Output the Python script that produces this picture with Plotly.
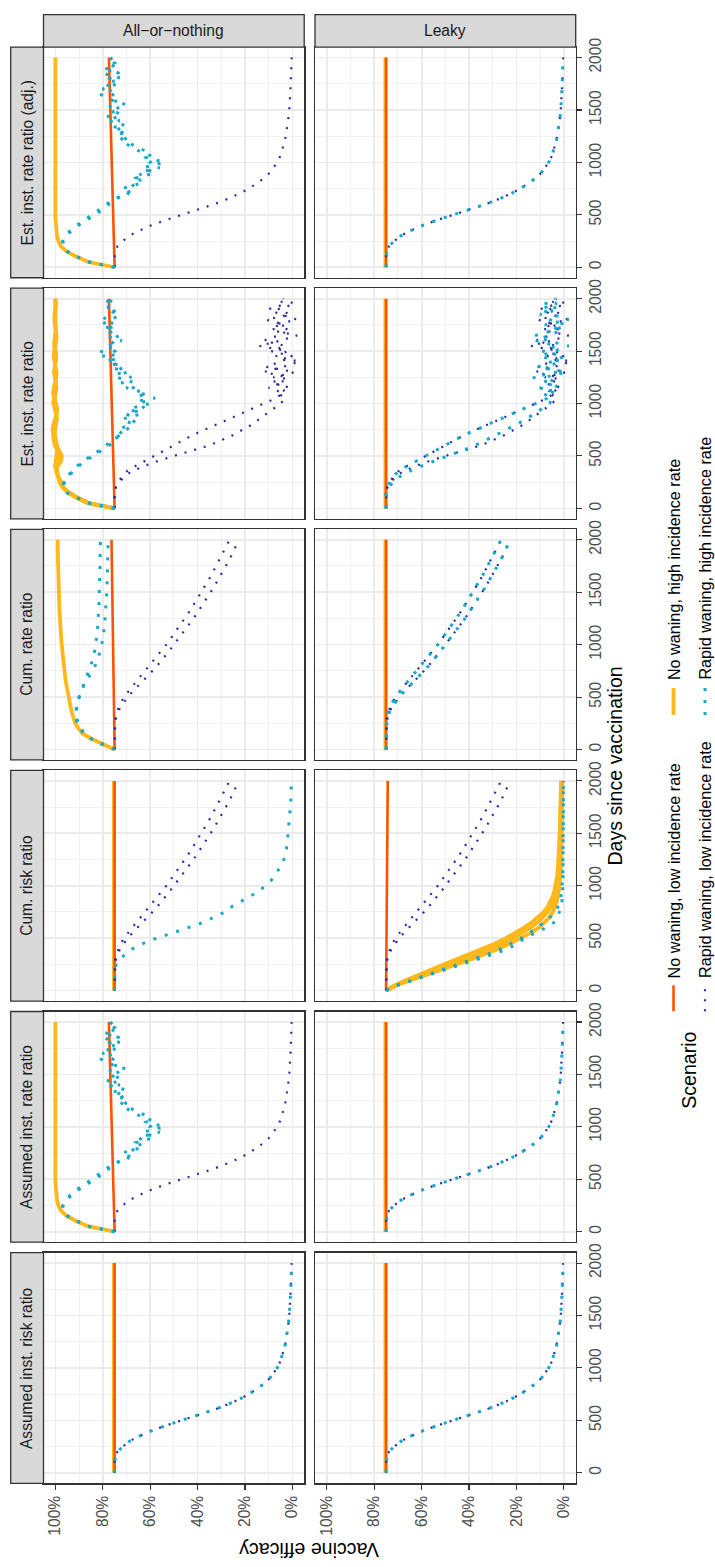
import plotly.graph_objects as go

# ---------------- data ----------------
DAYS = [0, 50, 100, 150, 200, 250, 300, 350, 400, 450, 500, 550, 600, 650, 700, 750, 800,
        850, 900, 950, 1000, 1050, 1100, 1150, 1200, 1250, 1300, 1350, 1400, 1450, 1500,
        1550, 1600, 1650, 1700, 1750, 1800, 1850, 1900, 1950, 2000]
D_ENDS = [0, 2000]

COL_LABELS = ["All\u2212or\u2212nothing", "Leaky"]
ROW_LABELS = ["Est. inst. rate ratio (adj.)", "Est. inst. rate ratio", "Cum. rate ratio",
              "Cum. risk ratio", "Assumed inst. rate ratio", "Assumed inst. risk ratio"]
VE_TICKS = [0, 20, 40, 60, 80, 100]
VE_TICK_LABELS = ["0%", "20%", "40%", "60%", "80%", "100%"]
VE_MINOR = [10, 30, 50, 70, 90]
DAY_TICKS = [0, 500, 1000, 1500, 2000]
DAY_TICK_LABELS = ["0", "500", "1000", "1500", "2000"]
DAY_MINOR = [250, 750, 1250, 1750]

SCENARIOS = ["No waning, low incidence rate", "No waning, high incidence rate",
             "Rapid waning, low incidence rate", "Rapid waning, high incidence rate"]

# no waning, flat / slightly tilted lines (values at day 0 and day 2000)
NWL_FLAT = [75.0, 75.0]
NWL_AON_RATE = [75.0, 77.4]
NWL_AON_CUMRATE = [75.0, 76.3]
NWL_LEAKY_CUMRISK = [75.0, 74.3]
NWH_FLAT = [75.3, 75.3]

# rapid waning, true instantaneous efficacy
RW_TRUE = [75, 75, 75, 74.6, 73.8, 71.6, 68.8, 64.6, 59.5, 53.5, 46.5, 39.6, 33.2, 27.5, 22.5,
           18.3, 14.8, 11.9, 9.6, 7.8, 6.4, 5.3, 4.5, 3.8, 3.2, 2.8, 2.4, 2.0, 1.8, 1.5, 1.3,
           1.1, 1.0, 0.9, 0.8, 0.7, 0.6, 0.5, 0.4, 0.35, 0.3]

# no waning, high incidence, all-or-nothing instantaneous rate ratio
NWH_AON_INST = [75, 86, 91, 95.3, 97.6, 98.7, 99.3, 99.6, 99.8, 99.9, 100, 100, 100, 100, 100,
                100, 100, 100, 100, 100, 100, 100, 100, 100, 100, 100, 100, 100, 100, 100, 100,
                100, 100, 100, 100, 100, 100, 100, 100, 100, 100]

RWH_AON_INST_A = [75, 86, 91, 95, 96.8, 96.8, 95.2, 93.2, 90.2, 86.8, 83.2, 80, 77.5,
                  74, 71, 66, 68, 62, 65, 56, 60, 58, 64, 68, 72, 69, 75, 70, 78, 72, 76,
                  70, 77, 81, 75, 79, 72, 80, 74, 78, 76]
RWH_AON_INST_B = [75, 85.5, 90.6, 94.7, 96.6, 96.9, 95.6, 93.8, 91, 87.8, 84.3, 81, 78.3,
                  76, 69, 72, 64, 66, 58, 63, 54, 62, 61, 66, 70, 74, 71, 76, 73, 79, 74,
                  78, 73, 76, 80, 74, 77, 73, 79, 75, 77]

# estimated instantaneous rate ratio (row 2)
NWH_AON_EST_1 = [75, 86.5, 91, 94.8, 97, 98.3, 98.8, 99.2, 100.2, 99.5, 98.2, 99, 100.3, 100.8,
                 101, 100.5, 99.8, 99.3, 99.6, 100.4, 100.9, 100.6, 100, 99.5, 99.8, 100.3,
                 100.6, 100.2, 99.7, 99.6, 100.1, 100.5, 100.4, 100, 99.7, 99.9, 100.3, 100.4,
                 100.1, 99.9, 100.1]
NWH_AON_EST_2 = [75, 85.5, 90.2, 94, 96.6, 97.8, 98.6, 99.6, 99.1, 97.6, 97.2, 98.4, 99.4, 99.8,
                 100.4, 101.2, 100.8, 100, 99.4, 99.2, 99.8, 100.5, 101, 100.7, 100.1, 99.6,
                 99.5, 99.9, 100.4, 100.7, 100.5, 100, 99.6, 99.5, 99.9, 100.3, 100.5, 100.2,
                 99.8, 99.7, 100]
NWH_AON_EST_3 = [75, 86, 90.8, 94.4, 96.8, 98, 98.9, 99.5, 99.8, 99.9, 99.6, 99.3, 99.5, 99.9,
                 100.2, 100.1, 99.8, 99.6, 99.8, 100.1, 100.3, 100.2, 99.9, 99.7, 99.8, 100,
                 100.2, 100.1, 99.9, 99.8, 99.9, 100.1, 100.2, 100.1, 99.9, 99.9, 100, 100.1,
                 100, 99.9, 100]
RWH_AON_EST_A = [75, 85.5, 90.5, 95, 96.6, 96.2, 94.5, 92.7, 90.3, 87.5, 84, 80.5, 77.3,
                 75, 73, 70, 67, 72, 64, 69, 60, 66, 62, 70, 67, 74, 70, 77, 73, 80, 75,
                 78, 72, 79, 75, 81, 76, 73, 79, 75, 78]
RWH_AON_EST_B = [75, 86, 91, 95.4, 97, 96.4, 95, 93.3, 91, 88.3, 85, 81.5, 78.4,
                 77, 71, 74, 68, 66, 70, 62, 65, 58, 64, 67, 72, 68, 75, 71, 78, 74, 81,
                 74, 77, 73, 79, 74, 80, 77, 74, 80, 76]
RW_EST_A = [75, 75, 75, 75, 74.5, 73, 71, 68, 63, 57, 50, 42, 35, 30, 25, 21, 17, 14, 11, 8, 5,
            3, 6, 1, 9, 2, 12, 4, -3, 7, 2, 14, 5, -2, 9, 3, 11, 1, 6, -1, 4]
RW_EST_B = [75, 75, 75, 75, 74.5, 73.5, 72, 70, 66.5, 62.5, 58.5, 54, 50, 46, 42, 37, 32, 27, 22,
            17, 12, 7, 4, 10, 3, 8, -1, 11, 5, 0, 9, 3, 12, 6, 1, 8, -2, 5, 10, 3, 7]
RW_EST_C = [75, 75, 75, 75, 74, 72, 69.5, 65.5, 60.5, 55, 49, 43, 37.5, 33, 28.5, 24, 20, 16,
            12.5, 9, 6, 5, 9, 2, 6, 13, 3, 8, 1, 10, 4, -2, 7, 12, 4, -1, 6, 10, 2, 8, 3]

# cumulative rate / risk ratios
NWH_AON_CUMRATE = [75, 80, 84.6, 88.4, 90.3, 91.6, 92.5, 93, 93.5, 94, 94.4, 94.9, 95.3, 95.6,
                   95.9, 96.2, 96.5, 96.7, 96.9, 97.1, 97.3, 97.5, 97.7, 97.8, 98, 98.1, 98.2,
                   98.3, 98.4, 98.5, 98.6, 98.6, 98.7, 98.7, 98.8, 98.8, 98.9, 98.9, 99, 99, 99]
RWH_AON_CUMRATE_A = [75, 80, 84.5, 87.5, 89.3, 90.4, 91, 91.2, 91.1, 90.7, 90, 89.2, 88.4, 87.5,
                     86.6, 85.7, 84.9, 84.3, 83.7, 83.3, 82.9, 82.6, 82.4, 82.2, 82, 81.9, 81.8,
                     81.7, 81.6, 81.5, 81.4, 81.4, 81.3, 81.3, 81.2, 81.2, 81.1, 81.1, 81.1, 81,
                     81]
RWH_AON_CUMRATE_B = [75, 80.5, 85, 88, 89.8, 90.8, 91.3, 91.4, 91.2, 90.7, 90, 89.1, 88.2, 87,
                     85.6, 84.3, 83.2, 82.3, 81.5, 80.9, 80.4, 80, 79.7, 79.4, 79.2, 79, 78.8,
                     78.6, 78.5, 78.4, 78.3, 78.2, 78.1, 78, 78, 77.9, 77.9, 77.8, 77.8, 77.8,
                     77.8]
RW_CUM_A = [75, 75, 75, 75, 75, 74.8, 74.4, 73.7, 72.6, 71.2, 69.5, 67.5, 65.3, 63.2, 61, 59, 57,
            55.1, 53.3, 51.6, 50, 48.3, 46.6, 44.9, 43.3, 41.7, 40.2, 38.7, 37.3, 35.9, 34.5,
            33.1, 31.8, 30.5, 29.2, 28, 26.8, 25.7, 24.6, 23.6, 22.6]
RW_CUM_B = [75, 75, 75, 75, 75, 75, 74.7, 74.2, 73.4, 72.3, 71, 69.4, 67.6, 65.8, 64, 62.1, 60.2,
            58.4, 56.6, 54.9, 53.2, 51.6, 50, 48.4, 46.9, 45.4, 43.9, 42.5, 41.1, 39.7, 38.4,
            37.1, 35.8, 34.5, 33.3, 32.1, 30.9, 29.8, 28.7, 27.6, 26.5]
RWH_AON_CUMRISK = [75, 75, 75, 75, 74.8, 74.3, 72.8, 70.3, 67.3, 62.9, 57.2, 50.5, 43.8, 37.6,
                   33, 28.5, 25.6, 21.7, 17.4, 13.9, 11.5, 9, 7.3, 5.8, 4.6, 3.6, 3, 2.5, 2.2, 2,
                   1.7, 1.5, 1.2, 1, 0.8, 0.7, 0.65, 0.6, 0.5, 0.45, 0.4]
NWH_LEAKY_CUMRISK_A = [75, 71, 65.5, 60, 54, 48, 42, 36.5, 31, 26, 21.5, 17.5, 14, 11, 8.5, 6.6,
                       5.3, 4.5, 3.9, 3.4, 3, 2.7, 2.5, 2.3, 2.2, 2, 1.9, 1.8, 1.7, 1.65, 1.6,
                       1.5, 1.45, 1.4, 1.35, 1.3, 1.25, 1.2, 1.15, 1.1, 1.0]
NWH_LEAKY_CUMRISK_B = [75, 70.5, 64.5, 58.5, 52, 45.5, 39, 33, 27.5, 22.5, 18, 14, 10.5, 8, 6,
                       4.6, 3.6, 3, 2.5, 2.1, 1.8, 1.6, 1.4, 1.3, 1.2, 1.1, 1.0, 0.95, 0.9, 0.85,
                       0.8, 0.78, 0.76, 0.74, 0.72, 0.7, 0.68, 0.66, 0.64, 0.62, 0.6]
NWH_LEAKY_CUMRISK_C = [75, 71.5, 66.5, 61.5, 56, 50.5, 45, 39.5, 34, 29, 24.5, 20.5, 16.8, 13.5,
                       10.8, 8.5, 6.8, 5.6, 4.7, 4, 3.5, 3.1, 2.8, 2.6, 2.4, 2.2, 2.1, 2, 1.9,
                       1.8, 1.7, 1.65, 1.6, 1.55, 1.5, 1.45, 1.4, 1.35, 1.3, 1.25, 1.2]
RWH_LEAKY_CUMRISK_A = [75, 70.3, 63.5, 56.5, 49.5, 42.5, 35.5, 29.5, 23.5, 19.5, 16.5, 12, 7.5,
                       4.2, 2.8, 1.9, 1.1, 0.8, 0.6, 0.5, 0.45, 0.4, 0.38, 0.35, 0.33, 0.3, 0.3,
                       0.28, 0.27, 0.26, 0.25, 0.24, 0.23, 0.22, 0.21, 0.2, 0.2, 0.2, 0.2, 0.2,
                       0.2]
RWH_LEAKY_CUMRISK_B = [75, 70.6, 64.2, 57.6, 51, 44.3, 37.8, 31.8, 26.5, 22, 18, 14.5, 11.2, 8.4,
                       5.8, 3.8, 2.5, 1.7, 1.2, 0.9, 0.7, 0.6, 0.5, 0.45, 0.4, 0.38, 0.35, 0.33,
                       0.3, 0.3, 0.28, 0.27, 0.26, 0.25, 0.24, 0.23, 0.22, 0.22, 0.21, 0.21, 0.2]

# ---------------- styles ----------------
FONT = "Liberation Sans, Arial, Helvetica, sans-serif"
STYLE = {
    0: dict(color="#FF5200", width=2.6, dash="solid"),
    1: dict(color="#FFB81C", width=3.8, dash="solid"),
    2: dict(color="#2A2AA6", width=2.2, dash="2px,8px"),
    3: dict(color="#16A9C9", width=3.0, dash="3px,9px"),
}
DRAW_ORDER = [1, 0, 2, 3]

AON_INST = {0: [(D_ENDS, NWL_AON_RATE)], 1: [(DAYS, NWH_AON_INST)], 2: [(DAYS, RW_TRUE)],
            3: [(DAYS, RWH_AON_INST_A), (DAYS, RWH_AON_INST_B)]}
LEAKY_INST = {0: [(D_ENDS, NWL_FLAT)], 1: [(D_ENDS, NWH_FLAT)], 2: [(DAYS, RW_TRUE)],
              3: [(DAYS, RW_TRUE)]}
PANELS = {
    (0, 0): AON_INST,
    (0, 1): LEAKY_INST,
    (1, 0): {0: [(D_ENDS, NWL_AON_RATE)],
             1: [(DAYS, NWH_AON_EST_1), (DAYS, NWH_AON_EST_2), (DAYS, NWH_AON_EST_3)],
             2: [(DAYS, RW_EST_A), (DAYS, RW_EST_B)],
             3: [(DAYS, RWH_AON_EST_A), (DAYS, RWH_AON_EST_B)]},
    (1, 1): {0: [(D_ENDS, NWL_FLAT)], 1: [(D_ENDS, NWH_FLAT)],
             2: [(DAYS, RW_EST_A), (DAYS, RW_EST_B)],
             3: [(DAYS, RW_EST_C), (DAYS, RW_EST_B)]},
    (2, 0): {0: [(D_ENDS, NWL_AON_CUMRATE)], 1: [(DAYS, NWH_AON_CUMRATE)],
             2: [(DAYS, RW_CUM_A), (DAYS, RW_CUM_B)],
             3: [(DAYS, RWH_AON_CUMRATE_A), (DAYS, RWH_AON_CUMRATE_B)]},
    (2, 1): {0: [(D_ENDS, NWL_FLAT)], 1: [(D_ENDS, NWH_FLAT)],
             2: [(DAYS, RW_CUM_A), (DAYS, RW_CUM_B)],
             3: [(DAYS, RW_CUM_B), (DAYS, RW_CUM_A)]},
    (3, 0): {0: [(D_ENDS, NWL_FLAT)], 1: [(D_ENDS, NWH_FLAT)],
             2: [(DAYS, RW_CUM_A), (DAYS, RW_CUM_B)],
             3: [(DAYS, RWH_AON_CUMRISK)]},
    (3, 1): {0: [(D_ENDS, NWL_LEAKY_CUMRISK)],
             1: [(DAYS, NWH_LEAKY_CUMRISK_A), (DAYS, NWH_LEAKY_CUMRISK_B), (DAYS, NWH_LEAKY_CUMRISK_C)],
             2: [(DAYS, RW_CUM_A), (DAYS, RW_CUM_B)],
             3: [(DAYS, RWH_LEAKY_CUMRISK_A), (DAYS, RWH_LEAKY_CUMRISK_B)]},
    (4, 0): AON_INST,
    (4, 1): LEAKY_INST,
    (5, 0): {0: [(D_ENDS, NWL_FLAT)], 1: [(D_ENDS, NWH_FLAT)], 2: [(DAYS, RW_TRUE)],
             3: [(DAYS, RW_TRUE)]},
    (5, 1): {0: [(D_ENDS, NWL_FLAT)], 1: [(D_ENDS, NWH_FLAT)], 2: [(DAYS, RW_TRUE)],
             3: [(DAYS, RW_TRUE)]},
}

# ---------------- layout geometry (pixels) ----------------
W, H = 715, 1567
COL_X = [(43.5, 304.2), (315.0, 575.7)]
ROW_TOPS = [38.3, 280.8, 523.3, 765.8, 1008.3, 1250.8]
ROW_H = 232.0
STRIP_TOP = (5.7, 38.3)
STRIP_LEFT = (10.7, 43.5)


def px(x):
    return x / W


def py(y):
    return 1 - y / H


fig = go.Figure()
layout = dict(width=W, height=H, margin=dict(l=0, r=0, t=0, b=0), autosize=False,
              paper_bgcolor="white", plot_bgcolor="white", showlegend=False,
              font=dict(family=FONT, color="#1A1A1A"))
shapes = []
annotations = []

idx = 0
for r in range(6):
    for c in range(2):
        idx += 1
        xn = "x" if idx == 1 else f"x{idx}"
        yn = "y" if idx == 1 else f"y{idx}"
        xa = "xaxis" if idx == 1 else f"xaxis{idx}"
        ya = "yaxis" if idx == 1 else f"yaxis{idx}"
        x0, x1 = COL_X[c]
        top = ROW_TOPS[r]
        bot = top + ROW_H
        bottom_row = r == 5
        right_col = c == 1
        layout[xa] = dict(
            domain=[px(x0), px(x1)], anchor=yn, range=[105, -5],
            tickvals=VE_TICKS, ticktext=VE_TICK_LABELS, showticklabels=bottom_row,
            ticks="outside" if bottom_row else "", ticklen=5, tickwidth=1.1, tickcolor="#333333",
            tickangle=-90, tickfont=dict(family=FONT, size=15.6, color="#4D4D4D"),
            showgrid=True, gridcolor="#EBEBEB", gridwidth=1.7, zeroline=False,
            showline=True, mirror=True, linecolor="#333333", linewidth=1.3,
            minor=dict(tickvals=VE_MINOR, showgrid=True, gridcolor="#F0F0F0", gridwidth=0.9, ticks=""),
        )
        layout[ya] = dict(
            domain=[py(bot), py(top)], anchor=xn, range=[-100, 2100], side="right",
            tickvals=DAY_TICKS, ticktext=DAY_TICK_LABELS, showticklabels=right_col,
            ticks="outside" if right_col else "", ticklen=5, tickwidth=1.1, tickcolor="#333333",
            tickangle=-90, tickfont=dict(family=FONT, size=15.6, color="#4D4D4D"),
            showgrid=True, gridcolor="#EBEBEB", gridwidth=1.7, zeroline=False,
            showline=True, mirror=True, linecolor="#333333", linewidth=1.3,
            minor=dict(tickvals=DAY_MINOR, showgrid=True, gridcolor="#F0F0F0", gridwidth=0.9, ticks=""),
        )
        panel = PANELS[(r, c)]
        for s in DRAW_ORDER:
            st = STYLE[s]
            for days, vals in panel[s]:
                fig.add_trace(go.Scatter(
                    x=vals, y=days, xaxis=xn, yaxis=yn, mode="lines", name=SCENARIOS[s],
                    line=dict(color=st["color"], width=st["width"], dash=st["dash"]),
                    hoverinfo="skip"))

# strips on top (columns)
for c, lab in enumerate(COL_LABELS):
    x0, x1 = COL_X[c]
    shapes.append(dict(type="rect", xref="paper", yref="paper", x0=px(x0), x1=px(x1),
                       y0=py(STRIP_TOP[1]), y1=py(STRIP_TOP[0]), fillcolor="#D9D9D9",
                       line=dict(color="#333333", width=1.3), layer="above"))
    annotations.append(dict(text=lab, xref="paper", yref="paper", x=px((x0 + x1) / 2),
                            y=py(sum(STRIP_TOP) / 2), showarrow=False, xanchor="center",
                            yanchor="middle", font=dict(family=FONT, size=15.6, color="#1A1A1A")))
# strips on the left (rows)
for r, lab in enumerate(ROW_LABELS):
    top = ROW_TOPS[r]
    bot = top + ROW_H
    shapes.append(dict(type="rect", xref="paper", yref="paper", x0=px(STRIP_LEFT[0]),
                       x1=px(STRIP_LEFT[1]), y0=py(bot), y1=py(top), fillcolor="#D9D9D9",
                       line=dict(color="#333333", width=1.3), layer="above"))
    annotations.append(dict(text=lab, xref="paper", yref="paper",
                            x=px(sum(STRIP_LEFT) / 2),
                            y=py((top + bot) / 2), showarrow=False, textangle=-90,
                            xanchor="center", yanchor="middle",
                            font=dict(family=FONT, size=15.6, color="#1A1A1A")))

# axis titles
annotations.append(dict(text="Vaccine efficacy", xref="paper", yref="paper", x=px(309.5),
                        y=py(1550), showarrow=False, textangle=180, xanchor="center",
                        yanchor="middle", font=dict(family=FONT, size=19.6, color="black")))
annotations.append(dict(text="Days since vaccination", xref="paper", yref="paper",
                        x=px(615), y=py(762), showarrow=False, textangle=-90,
                        xanchor="center", yanchor="middle",
                        font=dict(family=FONT, size=19.6, color="black")))

# legend (rotated, drawn by hand)
annotations.append(dict(text="Scenario", xref="paper", yref="paper", x=px(689),
                        y=py(1068), showarrow=False, textangle=-90, xanchor="center",
                        yanchor="middle", font=dict(family=FONT, size=19.6, color="black")))
LEG_X = [673.5, 673.5, 705.0, 705.0]
LEG_KEY = [(982, 1008), (683, 710), (982, 1008), (683, 710)]
LEG_TXT_Y = [977, 677, 977, 677]
for s in range(4):
    st = STYLE[s]
    shapes.append(dict(type="line", xref="paper", yref="paper", x0=px(LEG_X[s]), x1=px(LEG_X[s]),
                       y0=py(LEG_KEY[s][1]), y1=py(LEG_KEY[s][0]),
                       line=dict(color=st["color"], width=st["width"], dash=st["dash"])))
    annotations.append(dict(text=SCENARIOS[s], xref="paper", yref="paper",
                            x=px(LEG_X[s]),
                            y=py(LEG_TXT_Y[s]), showarrow=False, textangle=-90,
                            xanchor="center", yanchor="bottom",
                            font=dict(family=FONT, size=16.2, color="black")))

layout["shapes"] = shapes
layout["annotations"] = annotations
fig.update_layout(**layout)
fig.write_html("out.html", config={"displayModeBar": False, "staticPlot": True},
               post_script="document.body.style.margin='0px';document.body.style.overflow='hidden';")
